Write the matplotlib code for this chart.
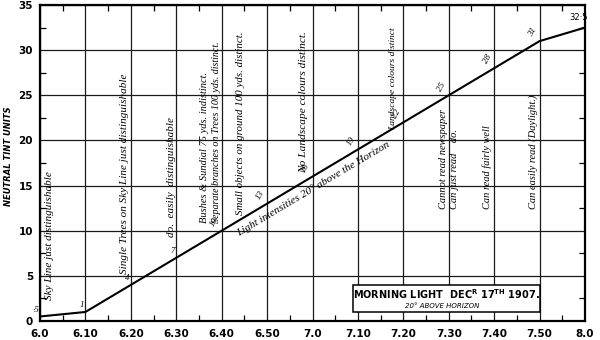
import numpy as np
import matplotlib
matplotlib.use("Agg")
import matplotlib.pyplot as plt
from matplotlib.patches import Rectangle
from matplotlib.ticker import MultipleLocator

# morning light readings, one per ten minutes
times = ["6.0", "6.10", "6.20", "6.30", "6.40", "6.50", "7.0",
         "7.10", "7.20", "7.30", "7.40", "7.50", "8.0"]
tint = [0.5, 1, 4, 7, 10, 13, 16, 19, 22, 25, 28, 31, 32.5]
point_labels = ["·5", "1", "4", "7", "10", "13", "16", "19",
                "22", "25", "28", "31", "32·5"]

# observations: (time index, tint level where the note starts, text, size)
notes = [
    (0.22, 2.3, "Sky Line just distinguishable", 8),
    (1.85, 5.2, "Single Trees on Sky Line just distinguishable", 8),
    (2.89, 9.3, "do.  easily  distinguishable", 8),
    (3.62, 10.9, "Bushes & Sundial 75 yds. indistinct.", 7.5),
    (3.89, 10.9, "Separate branches on Trees 100 yds. distinct.", 7.2),
    (4.42, 11.7, "Small objects on ground 100 yds. distinct.", 7.8),
    (5.81, 16.4, "No Landscape colours distinct.", 8.2),
    (7.78, 21.2, "Landscape colours distinct", 6.8),
    (8.88, 12.4, "Cannot read newspaper", 7.5),
    (9.12, 12.4, "Can just read    do.", 7.5),
    (9.85, 12.4, "Can read fairly well", 7.5),
    (10.86, 12.4, "Can easily read (Daylight.)", 7.5),
]

serif = "Liberation Serif"

fig = plt.figure(figsize=(6, 3.4), dpi=100)
ax = fig.add_axes([40 / 600, 19 / 340, 545 / 600, 316 / 340])

x = np.arange(len(times))
ax.plot(x, tint, color="black", lw=1.5, zorder=3)

ax.set_xlim(0, len(times) - 1)
ax.set_ylim(0, 35)
ax.set_xticks(x)
ax.set_xticklabels(times)
ax.xaxis.set_minor_locator(MultipleLocator(0.5))
ax.yaxis.set_major_locator(MultipleLocator(5))
ax.yaxis.set_minor_locator(MultipleLocator(2.5))
ax.grid(True, which="major", color="#1a1a1a", lw=0.9)
ax.tick_params(which="major", length=0, pad=5)
ax.tick_params(which="minor", direction="in", length=4, width=0.9,
               top=True, right=True)
ax.tick_params(axis="x", which="major", pad=6)
for lab in ax.get_xticklabels() + ax.get_yticklabels():
    lab.set_fontweight("bold")
    lab.set_fontsize(7.5)
for sp in ax.spines.values():
    sp.set_linewidth(1.6)

ax.set_ylabel("NEUTRAL TINT UNITS", fontsize=6, fontstyle="italic",
              fontweight="bold")
ax.yaxis.set_label_coords(-0.05, 0.52)

# value written beside each reading
for i, (v, lab) in enumerate(zip(tint, point_labels)):
    if i == len(tint) - 1:
        ax.annotate(lab, (i, v), xytext=(-5, 4), textcoords="offset points",
                    fontsize=6, family="DejaVu Sans", ha="center",
                    va="bottom", clip_on=False)
    else:
        rot = 0 if i < 4 else 60
        ax.annotate(lab, (i, v), xytext=(-1, 2), textcoords="offset points",
                    fontsize=6.5, family=serif, fontstyle="italic",
                    rotation=rot, ha="right", va="bottom")

for xi, yi, txt, size in notes:
    ax.text(xi, yi, txt, rotation=90, ha="center", va="bottom",
            fontsize=size, family=serif, fontstyle="italic", zorder=4)

# caption running along the curve
p0 = ax.transData.transform((4, tint[4]))
p1 = ax.transData.transform((10, tint[10]))
angle = np.degrees(np.arctan2(p1[1] - p0[1], p1[0] - p0[0]))
ax.text(6.02, 14.7, "Light intensities 20° above the Horizon", rotation=angle,
        rotation_mode="anchor", ha="center", va="center", fontsize=8,
        family=serif, fontstyle="italic", zorder=4)

# title panel
ax.add_patch(Rectangle((6.9, 1.0), 4.1, 3.0, facecolor="white",
                       edgecolor="black", lw=1.1, zorder=5))
ax.text(8.95, 2.95, r"MORNING LIGHT  DEC$^{\mathbf{R}}$ 17$^{\mathbf{TH}}$ 1907.",
        ha="center", va="center", fontsize=7, fontweight="bold", zorder=6)
ax.text(8.85, 1.7, "20° ABOVE HORIZON", ha="center", va="center",
        fontsize=5, fontstyle="italic", zorder=6)

fig.savefig("out.png", dpi=100, facecolor="white")
